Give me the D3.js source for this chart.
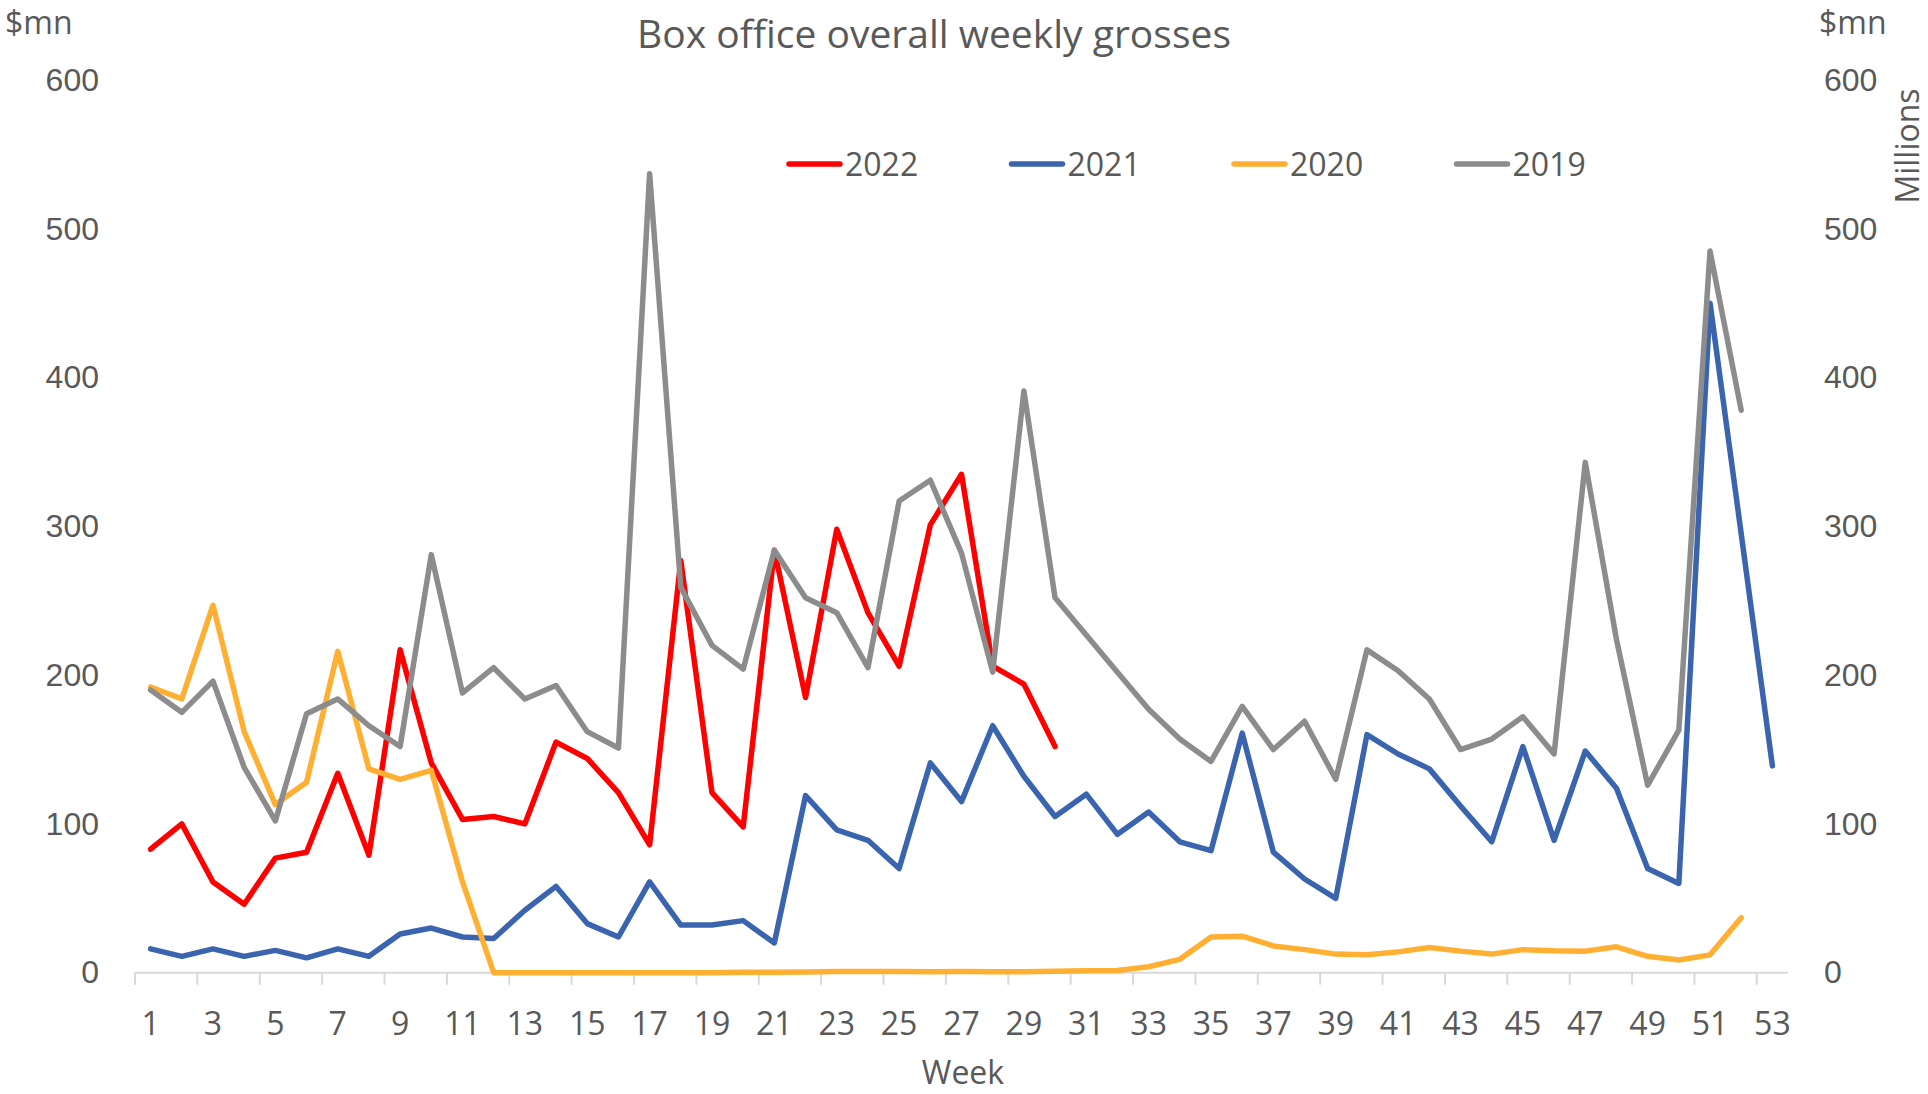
<!DOCTYPE html>
<html>
<head>
<meta charset="utf-8">
<title>Box office overall weekly grosses</title>
<script src="https://cdn.jsdelivr.net/npm/d3@7/dist/d3.min.js"></script>
<style>
  html, body { margin: 0; padding: 0; background: #fff; }
  svg { display: block; font-family: "Open Sans", "Noto Sans", sans-serif; }
  .lbl { fill: #595959; }
</style>
</head>
<body>
<div id="chart"></div>
<script>
// Box office weekly grosses, $mn, by week of year
const weeks = d3.range(1, 54);
const weekTicks = weeks.filter(w => w % 2 === 1);
const yTicks = [0, 100, 200, 300, 400, 500, 600];

const gross2022 = [83, 100, 61, 46, 77, 81, 134, 79, 217, 141, 103, 105, 100, 155, 144, 121, 86, 277, 121, 98,
  284, 185, 298, 242, 206, 301, 335, 206, 194, 152];
const gross2021 = [16, 11, 16, 11, 15, 10, 16, 11, 26, 30, 24, 23, 42, 58, 33, 24, 61, 32, 32, 35,
  20, 119, 96, 89, 70, 141, 115, 166, 132, 105, 120, 93, 108, 88, 82, 161, 81, 63, 50, 160,
  147, 137, 112, 88, 152, 89, 149, 124, 70, 60, 450, 295, 139];
const gross2020 = [192, 184, 247, 162, 113, 128, 216, 137, 130, 136, 61, 0, 0, 0, 0, 0, 0, 0, 0, 0.3,
  0.3, 0.4, 0.8, 0.8, 0.8, 0.6, 0.8, 0.6, 0.6, 1, 1.3, 1.5, 4, 9, 24, 24.5, 18, 15.5, 12.5, 12,
  14, 17, 14.5, 12.5, 15.5, 14.7, 14.5, 17.4, 11, 8.5, 12, 37];
const gross2019 = [190, 175, 196, 138, 102, 174, 184, 166, 152, 281, 188, 205, 184, 193, 162, 151, 537, 259, 220, 204,
  284, 252, 242, 205, 317, 331, 282, 202, 391, 252, 227, 202, 177, 157, 142, 179, 150, 169, 130, 217,
  203, 184, 150, 157, 172, 147, 343, 224, 126, 163, 485, 378];

const seriesNames = ['2022', '2021', '2020', '2019'];
const seriesColors = ['#FF0000', '#3A64AE', '#FFB033', '#8C8C8C'];
const seriesValues = [gross2022, gross2021, gross2020, gross2019];

const width = 1928, height = 1094;
const labelColor = '#595959';
const fontSize = 32;

const svg = d3.select('#chart').append('svg')
  .attr('width', width)
  .attr('height', height);

const x = d3.scaleBand()
  .domain(weeks)
  .range([135, 1788]);

const y = d3.scaleLinear()
  .domain([0, 600])
  .range([972.7, 80]);

const cx = w => x(w) + x.bandwidth() / 2;

// Title
svg.append('text')
  .attr('class', 'lbl')
  .attr('x', 934)
  .attr('y', 48)
  .attr('text-anchor', 'middle')
  .attr('font-size', 39)
  .text('Box office overall weekly grosses');

// Unit labels
svg.append('text')
  .attr('class', 'lbl')
  .attr('x', 5)
  .attr('y', 34)
  .attr('font-size', fontSize)
  .text('$mn');

svg.append('text')
  .attr('class', 'lbl')
  .attr('x', 1819)
  .attr('y', 34)
  .attr('font-size', fontSize)
  .text('$mn');

svg.append('text')
  .attr('class', 'lbl')
  .attr('transform', 'translate(1919,146) rotate(-90)')
  .attr('text-anchor', 'middle')
  .attr('font-size', fontSize)
  .text('Millions');

// Left and right value axes
const leftAxis = svg.append('g')
  .attr('transform', 'translate(99,0)')
  .call(d3.axisLeft(y).tickValues(yTicks).tickSize(0).tickPadding(0));

const rightAxis = svg.append('g')
  .attr('transform', 'translate(1824,0)')
  .call(d3.axisRight(y).tickValues(yTicks).tickSize(0).tickPadding(0));

[leftAxis, rightAxis].forEach(g => {
  g.select('.domain').remove();
  g.selectAll('text')
    .attr('fill', labelColor)
    .attr('font-size', fontSize)
    .attr('font-family', null);
});

// Category axis: line, ticks between categories, labels under odd weeks
const axisY = y(0);
svg.append('line')
  .attr('x1', x.range()[0])
  .attr('x2', x.range()[1])
  .attr('y1', axisY)
  .attr('y2', axisY)
  .attr('stroke', '#D9D9D9')
  .attr('stroke-width', 2);

svg.append('g')
  .selectAll('line')
  .data(weekTicks)
  .enter()
  .append('line')
  .attr('x1', d => x(d))
  .attr('x2', d => x(d))
  .attr('y1', axisY)
  .attr('y2', axisY + 12)
  .attr('stroke', '#D9D9D9')
  .attr('stroke-width', 2);

svg.append('g')
  .selectAll('text')
  .data(weekTicks)
  .enter()
  .append('text')
  .attr('class', 'lbl')
  .attr('x', d => cx(d))
  .attr('y', 1035)
  .attr('text-anchor', 'middle')
  .attr('font-size', fontSize)
  .text(d => d);

svg.append('text')
  .attr('class', 'lbl')
  .attr('x', 963)
  .attr('y', 1084)
  .attr('text-anchor', 'middle')
  .attr('font-size', fontSize)
  .text('Week');

// Lines - 2022 first, 2019 last (on top)
const line = d3.line()
  .x((d, i) => cx(weeks[i]))
  .y(d => y(d));

svg.append('g')
  .selectAll('path')
  .data(seriesValues)
  .enter()
  .append('path')
  .attr('d', d => line(d))
  .attr('fill', 'none')
  .attr('stroke', (d, i) => seriesColors[i])
  .attr('stroke-width', 5.5)
  .attr('stroke-linejoin', 'round')
  .attr('stroke-linecap', 'round');

// Legend
const legend = svg.append('g')
  .attr('transform', 'translate(787,164)');

const legendItems = legend.selectAll('g')
  .data(seriesNames)
  .enter()
  .append('g')
  .attr('transform', (d, i) => `translate(${i * 222.5},0)`);

legendItems.append('line')
  .attr('x1', 2)
  .attr('x2', 53)
  .attr('y1', 0)
  .attr('y2', 0)
  .attr('stroke', (d, i) => seriesColors[i])
  .attr('stroke-width', 5.5)
  .attr('stroke-linecap', 'round');

legendItems.append('text')
  .attr('class', 'lbl')
  .attr('x', 58)
  .attr('y', 0)
  .attr('dy', '0.36em')
  .attr('font-size', fontSize)
  .text(d => d);
</script>
</body>
</html>
